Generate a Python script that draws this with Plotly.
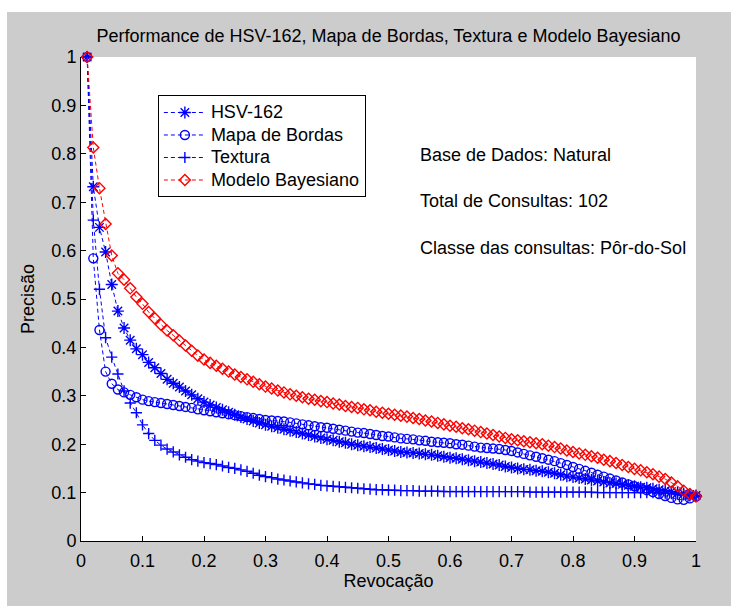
import plotly.graph_objects as go

# Recall levels (0.01 .. 1.00)
revocacao = [round(0.01 * k, 2) for k in range(1, 101)]

precisao_hsv = [
    1.0, 0.732, 0.648, 0.597, 0.53, 0.475, 0.44, 0.415, 0.397, 0.385,
    0.369, 0.358, 0.346, 0.334, 0.326, 0.318, 0.31, 0.302, 0.294, 0.287,
    0.281, 0.276, 0.271, 0.266, 0.261, 0.256, 0.252, 0.248, 0.244, 0.24,
    0.237, 0.234, 0.231, 0.228, 0.225, 0.222, 0.219, 0.216, 0.213, 0.21,
    0.208, 0.205, 0.203, 0.2, 0.198, 0.196, 0.194, 0.192, 0.19, 0.188,
    0.186, 0.184, 0.183, 0.182, 0.181, 0.179, 0.178, 0.176, 0.174, 0.172,
    0.171, 0.169, 0.167, 0.165, 0.163, 0.161, 0.159, 0.157, 0.154, 0.152,
    0.15, 0.148, 0.147, 0.145, 0.144, 0.142, 0.14, 0.137, 0.134, 0.132,
    0.13, 0.128, 0.126, 0.124, 0.122, 0.12, 0.119, 0.117, 0.115, 0.113,
    0.111, 0.11, 0.108, 0.106, 0.104, 0.102, 0.1, 0.098, 0.096, 0.094,
]

precisao_bordas = [
    1.0, 0.584, 0.436, 0.35, 0.325, 0.313, 0.307, 0.302, 0.297, 0.292,
    0.289, 0.287, 0.285, 0.283, 0.281, 0.279, 0.277, 0.275, 0.272, 0.27,
    0.268, 0.266, 0.264, 0.262, 0.26, 0.258, 0.256, 0.254, 0.252, 0.25,
    0.249, 0.248, 0.247, 0.245, 0.243, 0.241, 0.239, 0.237, 0.235, 0.234,
    0.232, 0.23, 0.228, 0.226, 0.224, 0.223, 0.221, 0.219, 0.217, 0.216,
    0.214, 0.212, 0.211, 0.21, 0.208, 0.207, 0.205, 0.204, 0.203, 0.202,
    0.2, 0.199, 0.197, 0.195, 0.193, 0.192, 0.191, 0.19, 0.188, 0.186,
    0.183, 0.18, 0.177, 0.174, 0.171, 0.168, 0.165, 0.161, 0.157, 0.153,
    0.149, 0.145, 0.141, 0.137, 0.133, 0.129, 0.125, 0.121, 0.117, 0.113,
    0.109, 0.105, 0.101, 0.097, 0.093, 0.089, 0.086, 0.085, 0.088, 0.092,
]

precisao_textura = [
    1.0, 0.663, 0.52, 0.42, 0.38, 0.345, 0.31, 0.285, 0.265, 0.24,
    0.222, 0.208, 0.198, 0.19, 0.184, 0.178, 0.173, 0.168, 0.165, 0.162,
    0.16, 0.158, 0.155, 0.152, 0.15, 0.147, 0.144, 0.14, 0.136, 0.133,
    0.131, 0.128, 0.126, 0.124, 0.122, 0.12, 0.118, 0.117, 0.115, 0.114,
    0.113, 0.112, 0.111, 0.11, 0.109, 0.108, 0.107, 0.106, 0.106, 0.105,
    0.105, 0.104, 0.104, 0.104, 0.103, 0.103, 0.103, 0.103, 0.102, 0.102,
    0.102, 0.102, 0.102, 0.102, 0.102, 0.102, 0.102, 0.102, 0.102, 0.102,
    0.102, 0.102, 0.101, 0.101, 0.101, 0.101, 0.101, 0.101, 0.101, 0.101,
    0.101, 0.101, 0.101, 0.1, 0.1, 0.1, 0.1, 0.1, 0.1, 0.1,
    0.1, 0.1, 0.1, 0.1, 0.099, 0.098, 0.097, 0.095, 0.093, 0.092,
]

precisao_bayes = [
    1.0, 0.813, 0.729, 0.655, 0.59, 0.553, 0.54, 0.522, 0.504, 0.49,
    0.473, 0.46, 0.447, 0.435, 0.425, 0.414, 0.404, 0.393, 0.383, 0.375,
    0.368, 0.362, 0.356, 0.35, 0.344, 0.339, 0.334, 0.329, 0.324, 0.319,
    0.315, 0.311, 0.307, 0.303, 0.3, 0.297, 0.294, 0.292, 0.289, 0.287,
    0.284, 0.282, 0.279, 0.277, 0.275, 0.272, 0.27, 0.267, 0.265, 0.263,
    0.261, 0.259, 0.257, 0.254, 0.252, 0.249, 0.247, 0.244, 0.241, 0.238,
    0.236, 0.233, 0.231, 0.228, 0.225, 0.222, 0.219, 0.216, 0.213, 0.21,
    0.208, 0.206, 0.204, 0.202, 0.2, 0.197, 0.194, 0.191, 0.187, 0.184,
    0.181, 0.178, 0.175, 0.172, 0.168, 0.165, 0.161, 0.157, 0.153, 0.149,
    0.146, 0.142, 0.138, 0.133, 0.128, 0.121, 0.113, 0.104, 0.097, 0.092,
]

series = [
    ("HSV-162", precisao_hsv, "#0000ff", "asterisk-open", 10),
    ("Mapa de Bordas", precisao_bordas, "#0000ff", "circle-open", 9),
    ("Textura", precisao_textura, "#0000ff", "cross-thin-open", 8),
    ("Modelo Bayesiano", precisao_bayes, "#ff0000", "diamond-open", 8.5),
]

info_lines = [
    "Base de Dados: Natural",
    "Total de Consultas: 102",
    "Classe das consultas: Pôr-do-Sol",
]
info_x = 0.548
info_y = [0.797, 0.702, 0.605]

tick_vals = [round(0.1 * k, 1) for k in range(11)]
tick_text = ["0", "0.1", "0.2", "0.3", "0.4", "0.5", "0.6", "0.7", "0.8", "0.9", "1"]

FONT = "Arial, Liberation Sans, sans-serif"

fig = go.Figure()
for name, prec, color, symbol, size in series:
    fig.add_trace(go.Scatter(
        x=revocacao, y=prec,
        # legend rows are spaced from the legend font size, the label itself is 18px
        name=f'<span style="font-size:18px">{name}</span>',
        mode="lines+markers",
        line=dict(color=color, width=1, dash="4px,3px"),
        marker=dict(symbol=symbol, size=size, color=color,
                    line=dict(color=color, width=1.4)),
        cliponaxis=False,
    ))

annotations = [
    dict(x=info_x, y=yy, xref="x", yref="y", text=t, showarrow=False,
         xanchor="left", yanchor="middle",
         font=dict(family=FONT, size=18, color="#000000"))
    for t, yy in zip(info_lines, info_y)
]

axis_common = dict(
    range=[0, 1], tickvals=tick_vals, ticktext=tick_text,
    showgrid=False, zeroline=False, showline=True, linecolor="#000000",
    linewidth=1, mirror=False, ticks="inside", ticklen=5,
    tickcolor="#000000", tickwidth=1,
    tickfont=dict(family=FONT, size=18, color="#000000"),
)

fig.update_layout(
    width=731, height=606,
    margin=dict(l=81, r=35, t=57, b=65),
    paper_bgcolor="#cccccc", plot_bgcolor="#ffffff",
    title=dict(
        text="Performance de HSV-162, Mapa de Bordas, Textura e Modelo Bayesiano",
        x=0.5, xref="paper", xanchor="center",
        y=1 - 36 / 606, yref="container", yanchor="middle",
        font=dict(family=FONT, size=18, color="#000000"),
    ),
    xaxis=dict(**axis_common, ticklabelstandoff=3,
               title=dict(text="Revocação", standoff=2,
                          font=dict(family=FONT, size=18, color="#000000"))),
    yaxis=dict(**axis_common,
               title=dict(text="Precisão", standoff=12,
                          font=dict(family=FONT, size=18, color="#000000"))),
    legend=dict(
        x=0.125, y=0.921, xanchor="left", yanchor="top",
        bgcolor="#ffffff", bordercolor="#000000", borderwidth=1,
        font=dict(family=FONT, size=15, color="#000000"),
        itemwidth=42,
    ),
    showlegend=True,
    annotations=annotations,
    shapes=[
        # white strips along the top and left edges of the figure
        dict(type="rect", xref="paper", yref="paper", x0=-0.2, x1=1.2,
             y0=1.093, y1=1.3, fillcolor="#ffffff", line=dict(width=0),
             layer="below"),
        dict(type="rect", xref="paper", yref="paper", x0=-0.2, x1=-0.1203,
             y0=-0.3, y1=1.3, fillcolor="#ffffff", line=dict(width=0),
             layer="below"),
    ],
)

fig.write_html("out.html")
